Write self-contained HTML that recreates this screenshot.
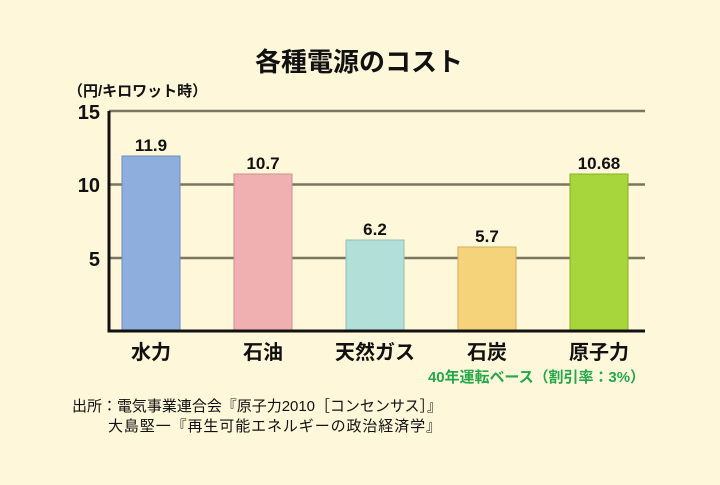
<!DOCTYPE html>
<html><head><meta charset="utf-8"><style>
body{margin:0;width:720px;height:480px;background:#fef7d9;overflow:hidden;font-family:"Liberation Sans","Noto Sans CJK JP",sans-serif;}
</style></head><body>
<svg width="720" height="480" xmlns="http://www.w3.org/2000/svg" font-family="Liberation Sans, Noto Sans CJK JP, sans-serif">
<rect width="720" height="480" fill="#fef7d9"/>
<text x="359" y="71" text-anchor="middle" font-size="26" font-weight="bold" fill="#111">各種電源のコスト</text>
<text x="68" y="96" font-size="15" font-weight="bold" fill="#111">（円/キロワット時）</text>
<g stroke="#7a7660" stroke-width="2.5">
<line x1="109" y1="111" x2="645" y2="111"/>
<line x1="109" y1="184.5" x2="645" y2="184.5"/>
<line x1="109" y1="258" x2="645" y2="258"/>
</g>
<g font-size="20" font-weight="bold" fill="#111" text-anchor="end">
<text x="100" y="119">15</text><text x="100" y="192">10</text><text x="100" y="266">5</text>
</g>
<g>
<rect x="122" y="156" width="58" height="175" fill="#8eaede" stroke="#6e8ebc" stroke-width="1"/>
<rect x="234" y="174" width="58" height="157" fill="#f0b0b2" stroke="#cc9090" stroke-width="1"/>
<rect x="346" y="240" width="58" height="91" fill="#b2e0d8" stroke="#90c0b8" stroke-width="1"/>
<rect x="458" y="247" width="58" height="84" fill="#f5d37a" stroke="#d0b060" stroke-width="1"/>
<rect x="570" y="174" width="58" height="157" fill="#a6d63c" stroke="#88b020" stroke-width="1"/>
</g>
<g font-size="17" font-weight="bold" fill="#111" text-anchor="middle">
<text x="151" y="151">11.9</text><text x="263" y="169">10.7</text><text x="375" y="235">6.2</text><text x="487" y="242">5.7</text><text x="599" y="169">10.68</text>
</g>
<path d="M109 111 V331 H645" fill="none" stroke="#111" stroke-width="3"/>
<g font-size="20" font-weight="bold" fill="#111" text-anchor="middle">
<text x="151" y="359">水力</text><text x="263" y="359">石油</text><text x="375" y="359">天然ガス</text><text x="487" y="359">石炭</text><text x="599" y="359">原子力</text>
</g>
<text x="645" y="382" text-anchor="end" font-size="15" font-weight="bold" fill="#22a84a" textLength="217">40年運転ベース（割引率：3%）</text>
<text x="72" y="411" font-size="15" fill="#111" textLength="370">出所：電気事業連合会『原子力2010［コンセンサス］』</text>
<text x="108" y="431" font-size="15" fill="#111" textLength="333">大島堅一『再生可能エネルギーの政治経済学』</text>
</svg>
</body></html>
